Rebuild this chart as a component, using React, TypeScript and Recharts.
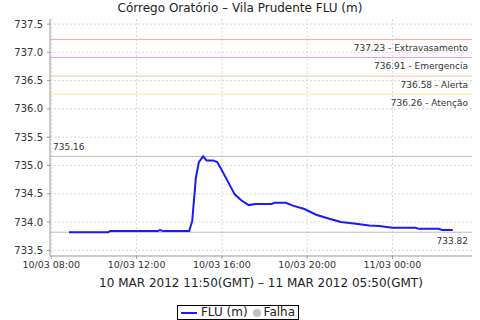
import React from "react";
import {
  LineChart,
  Line,
  XAxis,
  YAxis,
  CartesianGrid,
  ReferenceLine,
} from "recharts";

// hours counted from 10/03 00:00 (local time, GMT-3)
const hours = [
  8.83, 10.67, 10.75, 13.0, 13.1, 13.25, 14.47, 14.61, 14.78, 14.92, 15.12,
  15.28, 15.59, 15.78, 15.98, 16.29, 16.6, 16.92, 17.26, 17.58, 18.32, 18.47,
  19.0, 19.33, 19.87, 20.42, 21.04, 21.58, 22.29, 22.91, 23.37, 24.0, 25.08,
  25.24, 26.17, 26.33, 26.83,
];
const levels = [
  733.82, 733.82, 733.84, 733.84, 733.86, 733.84, 733.84, 734.02, 734.78,
  735.06, 735.16, 735.09, 735.09, 735.06, 734.93, 734.71, 734.49, 734.38,
  734.3, 734.32, 734.32, 734.34, 734.34, 734.29, 734.23, 734.13, 734.06, 734.0,
  733.97, 733.94, 733.93, 733.9, 733.9, 733.88, 733.88, 733.86, 733.86,
];

const xTicks = [8, 12, 16, 20, 24];
const yTicks = [733.5, 734.0, 734.5, 735.0, 735.5, 736.0, 736.5, 737.0, 737.5];

const thresholds = [
  { value: 737.23, name: "Extravasamento", color: "#f4a0a0" },
  { value: 736.91, name: "Emergencia", color: "#ee99ee" },
  { value: 736.58, name: "Alerta", color: "#ffc88c" },
  { value: 736.26, name: "Atenção", color: "#ffee88" },
];
const maxLevel = 735.16;
const minLevel = 733.82;

const data = hours.map((h, i) => ({ h, level: levels[i] }));

const font = "'DejaVu Sans', sans-serif";

const fmtTime = (h: number) => {
  const day = 10 + Math.floor(h / 24);
  const hh = Math.floor(h % 24);
  const mm = Math.round((h - Math.floor(h)) * 60);
  const p = (n: number) => String(n).padStart(2, "0");
  return `${p(day)}/03 ${p(hh)}:${p(mm)}`;
};

export default function App() {
  return (
    <div
      style={{
        position: "absolute",
        left: 0,
        top: 0,
        width: 480,
        height: 320,
        background: "#fff",
        fontFamily: font,
      }}
    >
      <div
        style={{
          position: "absolute",
          top: 0,
          width: 480,
          textAlign: "center",
          fontSize: 12,
          color: "#222",
          lineHeight: "16px",
        }}
      >
        Córrego Oratório – Vila Prudente FLU (m)
      </div>

      <LineChart
        width={480}
        height={320}
        data={data}
        margin={{ top: 19, right: 8, left: 0, bottom: 33 }}
      >
        <CartesianGrid
          stroke="#d8d8d8"
          strokeDasharray="2 2"
          horizontalValues={yTicks}
          verticalValues={xTicks}
        />
        <XAxis
          dataKey="h"
          type="number"
          domain={[7.94, 27.73]}
          ticks={xTicks}
          tickFormatter={fmtTime}
          height={31}
          tickSize={3}
          tickMargin={2}
          stroke="#999"
          tick={{ fill: "#333", fontSize: 9.5, fontFamily: font }}
          label={{
            value: "10 MAR 2012 11:50(GMT) – 11 MAR 2012 05:50(GMT)",
            position: "insideBottom",
            offset: 0,
            fill: "#222",
            fontSize: 12,
            fontFamily: font,
          }}
        />
        <XAxis
          xAxisId="top"
          orientation="top"
          dataKey="h"
          type="number"
          domain={[7.94, 27.73]}
          height={0}
          tick={false}
          tickLine={false}
          stroke="#aaa"
        />
        <YAxis
          type="number"
          domain={[733.4, 737.59]}
          ticks={yTicks}
          tickFormatter={(v: number) => v.toFixed(1)}
          width={50}
          tickSize={3}
          tickMargin={4}
          stroke="#999"
          tick={{ fill: "#333", fontSize: 10, fontFamily: font }}
        />
        <YAxis
          yAxisId="right"
          orientation="right"
          type="number"
          domain={[733.4, 737.59]}
          width={0}
          tick={false}
          tickLine={false}
          stroke="#aaa"
        />
        {thresholds.map((t) => (
          <ReferenceLine
            key={t.name}
            y={t.value}
            stroke={t.color}
            strokeWidth={1}
            label={{
              value: `${t.value.toFixed(2)} - ${t.name}`,
              position: "insideBottomRight",
              offset: 4,
              dy: 16,
              fill: "#333",
              fontSize: 9,
              fontFamily: font,
            }}
          />
        ))}
        <ReferenceLine
          y={maxLevel}
          stroke="#c0c0c0"
          label={{
            value: maxLevel.toFixed(2),
            position: "insideTopLeft",
            offset: 3,
            dy: -16,
            fill: "#333",
            fontSize: 9,
            fontFamily: font,
          }}
        />
        <ReferenceLine
          y={minLevel}
          stroke="#c0c0c0"
          label={{
            value: minLevel.toFixed(2),
            position: "insideBottomRight",
            offset: 4,
            dy: 16,
            fill: "#333",
            fontSize: 9,
            fontFamily: font,
          }}
        />
        <Line
          type="linear"
          dataKey="level"
          name="FLU (m)"
          stroke="#1a1aff"
          strokeWidth={2}
          dot={false}
          isAnimationActive={false}
        />
      </LineChart>

      <div
        style={{
          position: "absolute",
          top: 305,
          left: 177,
          width: 120,
          height: 13,
          border: "1px solid #000",
          display: "flex",
          alignItems: "center",
          justifyContent: "center",
          fontSize: 12,
          color: "#222",
          lineHeight: "13px",
          whiteSpace: "nowrap",
        }}
      >
        <span
          style={{
            display: "inline-block",
            width: 16,
            height: 2,
            background: "#1a1aff",
            marginRight: 4,
          }}
        />
        FLU (m)
        <span
          style={{
            display: "inline-block",
            width: 8,
            height: 8,
            borderRadius: "50%",
            background: "#c0c0c0",
            margin: "0 3px 0 5px",
          }}
        />
        Falha
      </div>
    </div>
  );
}
